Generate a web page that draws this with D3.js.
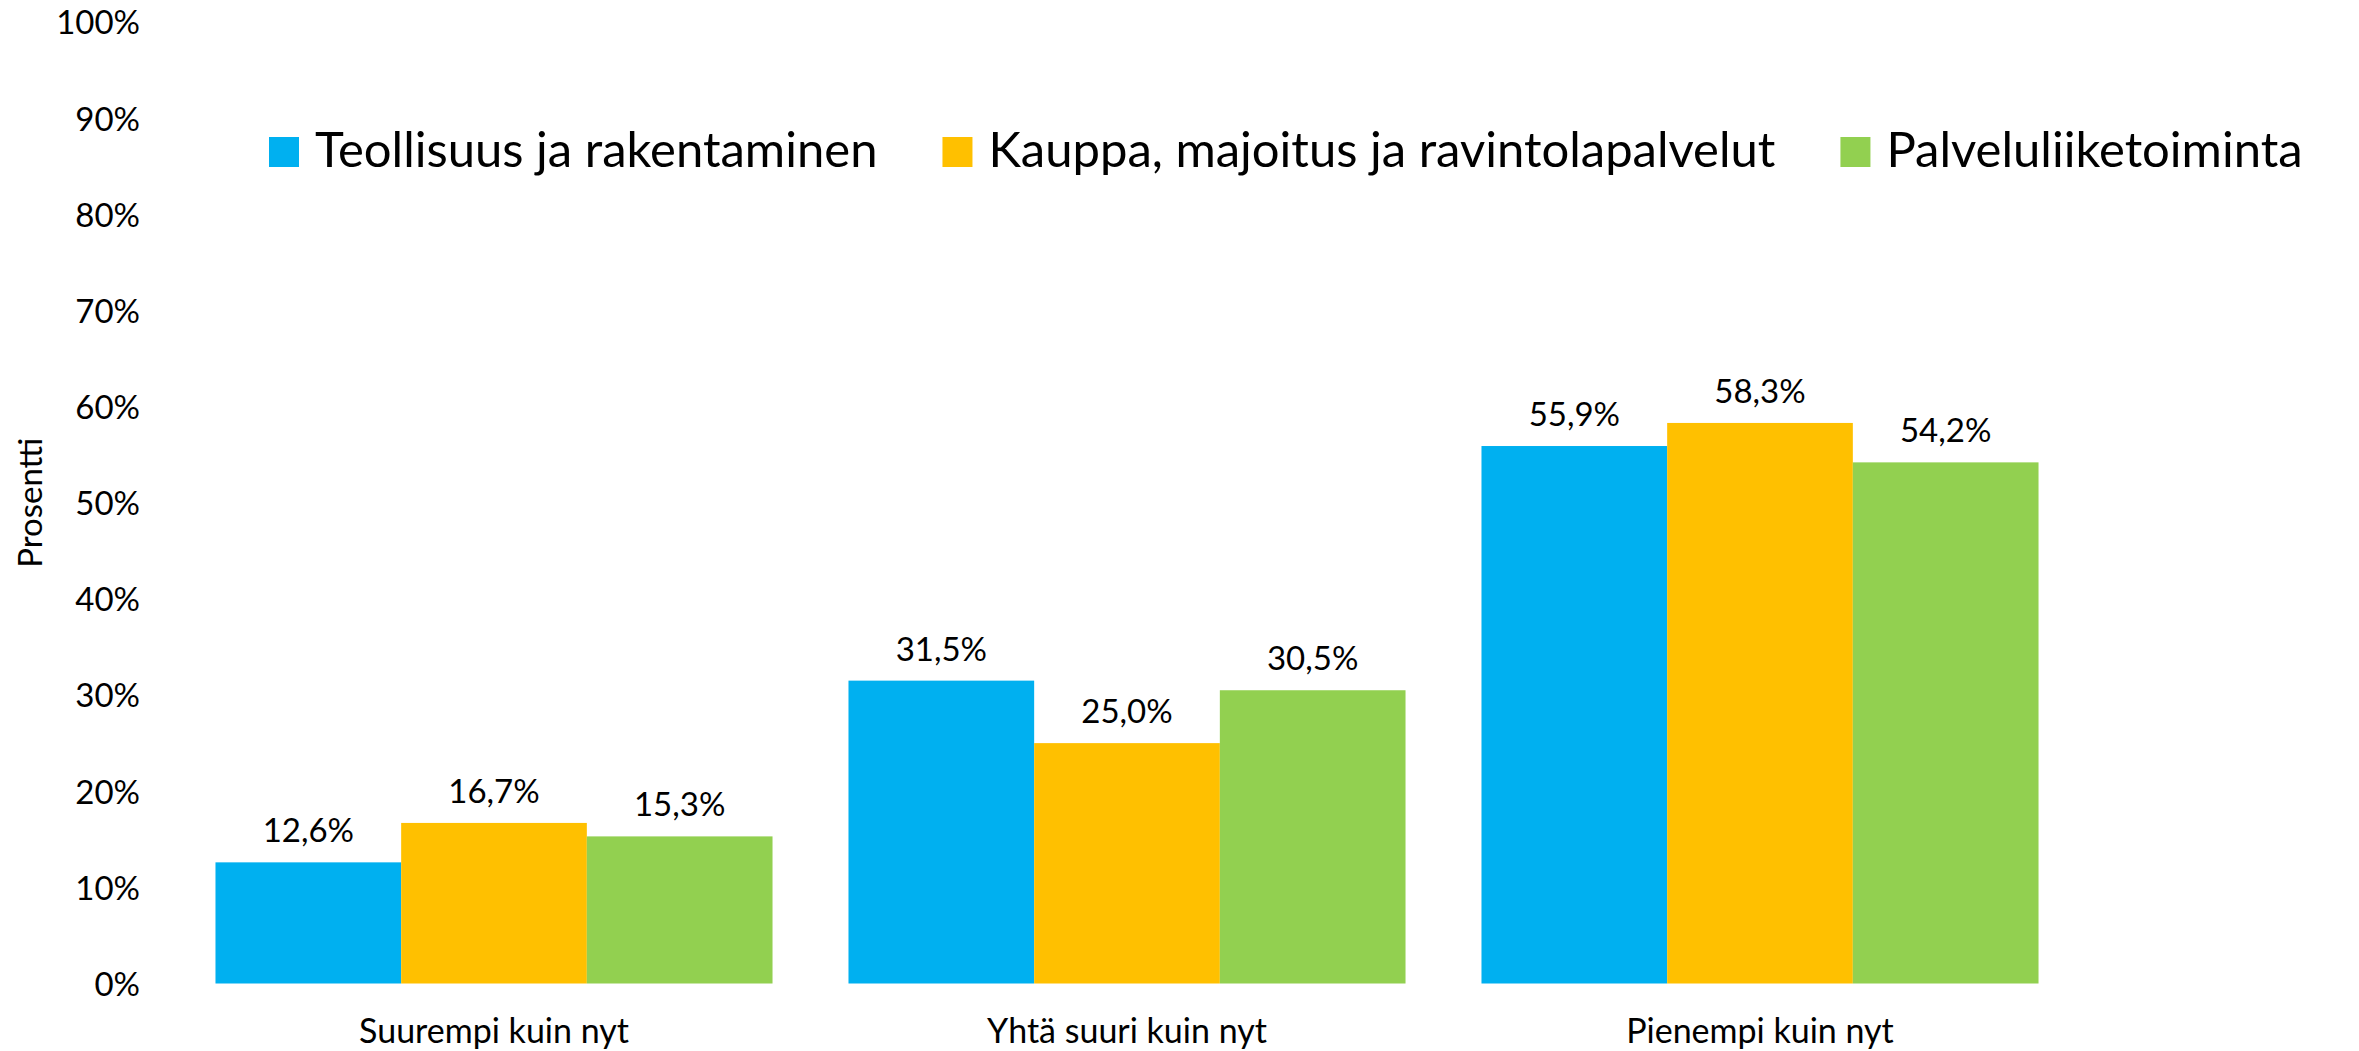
<!DOCTYPE html>
<html>
<head>
<meta charset="utf-8">
<script src="https://cdn.jsdelivr.net/npm/d3@7"></script>
<style>
    html, body { margin: 0; padding: 0; background: #fff; }
    svg { display: block; }
    text { font-family: Lato, "Open Sans", sans-serif; fill: #000; }
</style>
</head>
<body>
<script>
const categories = ["Suurempi kuin nyt", "Yhtä suuri kuin nyt", "Pienempi kuin nyt"];
const seriesNames = ["Teollisuus ja rakentaminen", "Kauppa, majoitus ja ravintolapalvelut", "Palveluliiketoiminta"];
const teollisuus = [12.6, 31.5, 55.9];
const kauppa = [16.7, 25.0, 58.3];
const palvelu = [15.3, 30.5, 54.2];
const yTicks = [0, 10, 20, 30, 40, 50, 60, 70, 80, 90, 100];
const colors = ["#00B0F0", "#FFC000", "#92D050"];

const width = 2359;
const height = 1051;
const seriesValues = [teollisuus, kauppa, palvelu];

const fi = d3.formatLocale({ decimal: ",", thousands: "\u00a0", grouping: [3], currency: ["", " €"] });
const fmtLabel = v => fi.format(".1f")(v) + "%";

const svg = d3.select("body")
              .append("svg")
              .attr("width", width)
              .attr("height", height);

const xScale = d3.scaleBand()
                 .domain(categories)
                 .range([177.5, 2076.5])
                 .paddingInner(0.12)
                 .paddingOuter(0.06);

const xSub = d3.scaleBand()
               .domain(seriesNames)
               .range([0, xScale.bandwidth()]);

const yScale = d3.scaleLinear()
                 .domain([0, 100])
                 .range([983.5, 22]);

// y axis (labels only)
const yAxis = d3.axisLeft(yScale)
                .tickValues(yTicks)
                .tickSize(0)
                .tickPadding(0)
                .tickFormat(d => d + "%");

svg.append("g")
   .attr("transform", "translate(140, 0)")
   .call(yAxis)
   .call(g => g.select(".domain").remove())
   .call(g => g.selectAll("text")
               .attr("dy", "0.36em")
               .style("font-family", "Lato, sans-serif")
               .style("font-size", "33px")
               .attr("fill", "#000"));

// x axis (labels only)
const xAxis = d3.axisBottom(xScale).tickSize(0).tickPadding(0);
svg.append("g")
   .attr("transform", "translate(0, 1043)")
   .call(xAxis)
   .call(g => g.select(".domain").remove())
   .call(g => g.selectAll("text")
               .attr("dy", 0)
               .attr("y", 0)
               .style("font-family", "Lato, sans-serif")
               .style("font-size", "34px")
               .attr("fill", "#000"));

svg.append("text")
   .attr("transform", `translate(42, ${(yScale(0) + yScale(100)) / 2}) rotate(-90)`)
   .attr("text-anchor", "middle")
   .style("font-size", "33px")
   .text("Prosentti");

// bars
const groups = svg.selectAll(".series")
                  .data(seriesNames)
                  .enter()
                  .append("g")
                  .attr("class", "series");

groups.each(function(name, si) {
    const g = d3.select(this);
    const vals = seriesValues[si].map((v, ci) => ({ cat: categories[ci], v }));
    g.selectAll("rect")
     .data(vals)
     .enter()
     .append("rect")
     .attr("x", d => xScale(d.cat) + xSub(name))
     .attr("y", d => yScale(d.v))
     .attr("width", xSub.bandwidth())
     .attr("height", d => yScale(0) - yScale(d.v))
     .attr("fill", colors[si]);
    g.selectAll("text")
     .data(vals)
     .enter()
     .append("text")
     .attr("x", d => xScale(d.cat) + xSub(name) + xSub.bandwidth() / 2)
     .attr("y", d => yScale(d.v) - 20)
     .attr("text-anchor", "middle")
     .style("font-size", "33px")
     .text(d => fmtLabel(d.v));
});

// legend
const legend = svg.append("g").attr("transform", "translate(269, 137)");
let lx = 0;
seriesNames.forEach((name, i) => {
    const item = legend.append("g").attr("transform", `translate(${lx}, 0)`);
    item.append("rect")
        .attr("width", 30)
        .attr("height", 30)
        .attr("fill", colors[i]);
    const t = item.append("text")
        .attr("x", 46)
        .attr("y", 30)
        .style("font-size", "49px")
        .text(name);
    lx += 46 + t.node().getComputedTextLength() + 65;
});
</script>
</body>
</html>
